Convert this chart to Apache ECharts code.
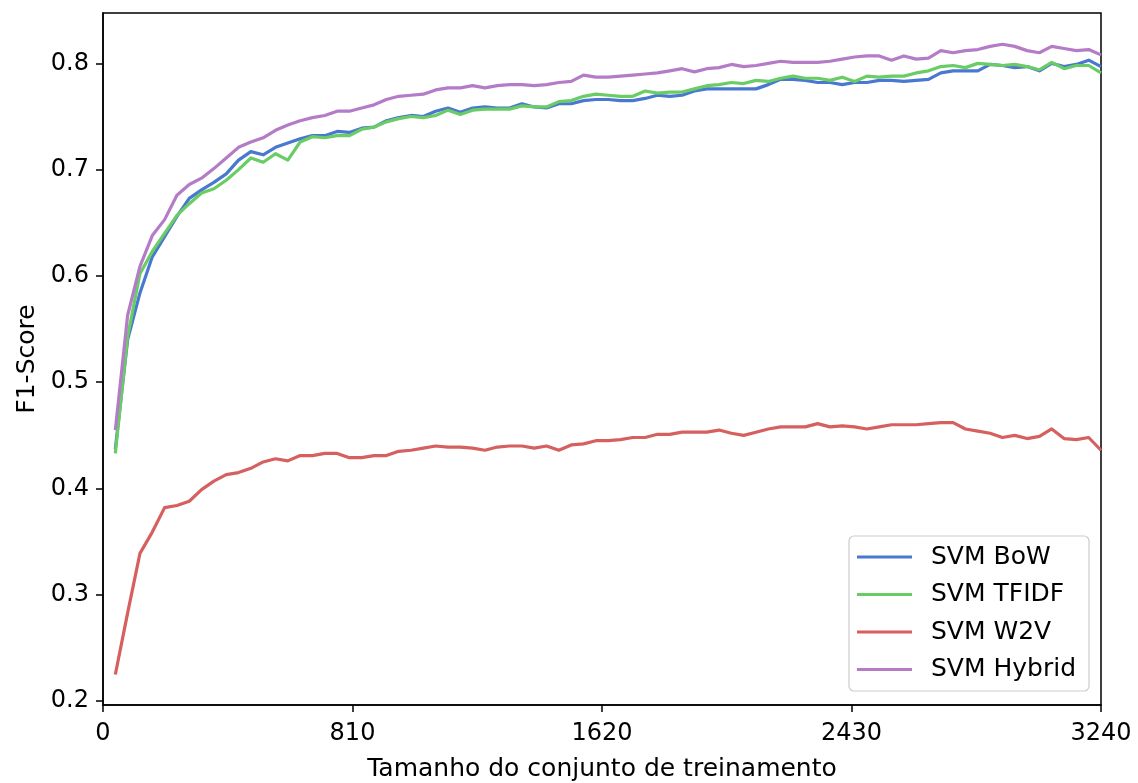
<!DOCTYPE html>
<html>
<head>
<meta charset="utf-8">
<script src="https://cdn.jsdelivr.net/npm/echarts@6/dist/echarts.min.js"></script>
<style>
  html, body { margin: 0; padding: 0; background: #fff; }
  #chart { width: 1138px; height: 783px; }
</style>
</head>
<body>
<div id="chart"></div>
<script>
// tamanhos do conjunto de treinamento (eixo x)
const trainSizes = [40, 80, 120, 160, 200, 240, 280, 320, 360, 400,
  440, 480, 520, 560, 600, 640, 680, 720, 760, 800,
  840, 880, 920, 960, 1000, 1040, 1080, 1120, 1160, 1200,
  1240, 1280, 1320, 1360, 1400, 1440, 1480, 1520, 1560, 1600,
  1640, 1680, 1720, 1760, 1800, 1840, 1880, 1920, 1960, 2000,
  2040, 2080, 2120, 2160, 2200, 2240, 2280, 2320, 2360, 2400,
  2440, 2480, 2520, 2560, 2600, 2640, 2680, 2720, 2760, 2800,
  2840, 2880, 2920, 2960, 3000, 3040, 3080, 3120, 3160, 3200, 3240]

const svmBow = [0.437, 0.540, 0.584, 0.618, 0.637, 0.656, 0.673, 0.681, 0.688, 0.696,
  0.709, 0.717, 0.714, 0.721, 0.725, 0.729, 0.732, 0.732, 0.736, 0.735,
  0.739, 0.740, 0.746, 0.749, 0.751, 0.750, 0.755, 0.758, 0.754, 0.758,
  0.759, 0.758, 0.758, 0.762, 0.759, 0.758, 0.762, 0.762, 0.765, 0.766,
  0.766, 0.765, 0.765, 0.767, 0.770, 0.769, 0.770, 0.774, 0.776, 0.776,
  0.776, 0.776, 0.776, 0.780, 0.785, 0.785, 0.784, 0.782, 0.782, 0.780,
  0.782, 0.782, 0.784, 0.784, 0.783, 0.784, 0.785, 0.791, 0.793, 0.793,
  0.793, 0.799, 0.798, 0.796, 0.797, 0.793, 0.800, 0.797, 0.799, 0.803, 0.797]

const svmTfidf = [0.433, 0.543, 0.602, 0.623, 0.640, 0.657, 0.668, 0.678, 0.682, 0.690,
  0.700, 0.711, 0.707, 0.715, 0.709, 0.726, 0.731, 0.730, 0.732, 0.732,
  0.738, 0.740, 0.745, 0.748, 0.750, 0.749, 0.751, 0.756, 0.752, 0.756,
  0.757, 0.757, 0.757, 0.760, 0.759, 0.759, 0.764, 0.765, 0.769, 0.771,
  0.770, 0.769, 0.769, 0.774, 0.772, 0.773, 0.773, 0.776, 0.779, 0.780,
  0.782, 0.781, 0.784, 0.783, 0.786, 0.788, 0.786, 0.786, 0.784, 0.787,
  0.783, 0.788, 0.787, 0.788, 0.788, 0.791, 0.793, 0.797, 0.798, 0.796,
  0.800, 0.799, 0.798, 0.799, 0.797, 0.794, 0.801, 0.795, 0.798, 0.798, 0.791]

const svmW2v = [0.225, 0.283, 0.339, 0.359, 0.382, 0.384, 0.388, 0.399, 0.407, 0.413,
  0.415, 0.419, 0.425, 0.428, 0.426, 0.431, 0.431, 0.433, 0.433, 0.429,
  0.429, 0.431, 0.431, 0.435, 0.436, 0.438, 0.440, 0.439, 0.439, 0.438,
  0.436, 0.439, 0.440, 0.440, 0.438, 0.440, 0.436, 0.441, 0.442, 0.445,
  0.445, 0.446, 0.448, 0.448, 0.451, 0.451, 0.453, 0.453, 0.453, 0.455,
  0.452, 0.450, 0.453, 0.456, 0.458, 0.458, 0.458, 0.461, 0.458, 0.459,
  0.458, 0.456, 0.458, 0.460, 0.460, 0.460, 0.461, 0.462, 0.462, 0.456,
  0.454, 0.452, 0.448, 0.450, 0.447, 0.449, 0.456, 0.447, 0.446, 0.448, 0.436]

const svmHybrid = [0.455, 0.563, 0.609, 0.638, 0.653, 0.676, 0.686, 0.692, 0.701, 0.711,
  0.721, 0.726, 0.730, 0.737, 0.742, 0.746, 0.749, 0.751, 0.755, 0.755,
  0.758, 0.761, 0.766, 0.769, 0.770, 0.771, 0.775, 0.777, 0.777, 0.779,
  0.777, 0.779, 0.780, 0.780, 0.779, 0.780, 0.782, 0.783, 0.789, 0.787,
  0.787, 0.788, 0.789, 0.790, 0.791, 0.793, 0.795, 0.792, 0.795, 0.796,
  0.799, 0.797, 0.798, 0.800, 0.802, 0.801, 0.801, 0.801, 0.802, 0.804,
  0.806, 0.807, 0.807, 0.803, 0.807, 0.804, 0.805, 0.812, 0.810, 0.812,
  0.813, 0.816, 0.818, 0.816, 0.812, 0.810, 0.816, 0.814, 0.812, 0.813, 0.808]

const xTicks = [0, 810, 1620, 2430, 3240]
const yTicks = [0.2, 0.3, 0.4, 0.5, 0.6, 0.7, 0.8]

const seriesNames = ['SVM BoW', 'SVM TFIDF', 'SVM W2V', 'SVM Hybrid']
const seriesValues = [svmBow, svmTfidf, svmW2v, svmHybrid]
const seriesColors = ['#4878CF', '#6ACC65', '#D65F5F', '#B47CC7']

const font = 'DejaVu Sans'
const myChart = echarts.init(document.getElementById('chart'), null, { renderer: 'canvas' })

const option = {
  animation: false,
  backgroundColor: '#fff',
  grid: {
    left: 103,
    right: 37,
    top: 13,
    bottom: 78,
    containLabel: false,
    outerBoundsMode: 'none',
    show: true,
    borderColor: '#000',
    borderWidth: 1.5,
    backgroundColor: 'transparent'
  },
  legend: {
    orient: 'vertical',
    left: 849,
    top: 536,
    data: seriesNames,
    icon: 'rect',
    itemWidth: 55,
    itemHeight: 3,
    itemGap: 7.5,
    padding: [6, 13, 6.5, 8],
    backgroundColor: 'rgba(255,255,255,0.8)',
    borderColor: '#cccccc',
    borderWidth: 1.2,
    borderRadius: 5,
    textStyle: { fontFamily: font, fontSize: 25, color: '#000', lineHeight: 30, padding: [0, 0, 0, 14] }
  },
  xAxis: {
    type: 'value',
    min: 0,
    max: 3240,
    interval: 810,
    name: 'Tamanho do conjunto de treinamento',
    nameLocation: 'middle',
    nameGap: 52,
    nameTextStyle: { fontFamily: font, fontSize: 25, color: '#000' },
    splitLine: { show: false },
    axisLine: { show: true, onZero: false, lineStyle: { color: '#000', width: 1.5 } },
    axisTick: { show: true, inside: false, length: 7, lineStyle: { color: '#000', width: 1.5 }, customValues: xTicks },
    axisLabel: {
      fontFamily: font, fontSize: 24, color: '#000', margin: 17,
      customValues: xTicks,
      formatter: v => String(v)
    }
  },
  yAxis: {
    type: 'value',
    min: 0.1963,
    max: 0.8474,
    name: 'F1-Score',
    nameLocation: 'middle',
    nameGap: 63,
    nameTextStyle: { fontFamily: font, fontSize: 25, color: '#000' },
    splitLine: { show: false },
    axisLine: { show: true, onZero: false, lineStyle: { color: '#000', width: 1.5 } },
    axisTick: { show: true, inside: false, length: 7, lineStyle: { color: '#000', width: 1.5 }, customValues: yTicks },
    axisLabel: {
      fontFamily: font, fontSize: 24, color: '#000', margin: 14,
      customValues: yTicks,
      formatter: v => v.toFixed(1)
    }
  },
  series: seriesNames.map((name, i) => ({
    name: name,
    type: 'line',
    data: trainSizes.map((x, j) => [x, seriesValues[i][j]]),
    symbol: 'none',
    showSymbol: false,
    clip: true,
    color: seriesColors[i],
    lineStyle: { color: seriesColors[i], width: 3.2, cap: 'butt', join: 'round' },
    emphasis: { disabled: true }
  }))
}

myChart.setOption(option)
window.addEventListener('resize', () => {
  myChart.resize()
})
</script>
</body>
</html>
